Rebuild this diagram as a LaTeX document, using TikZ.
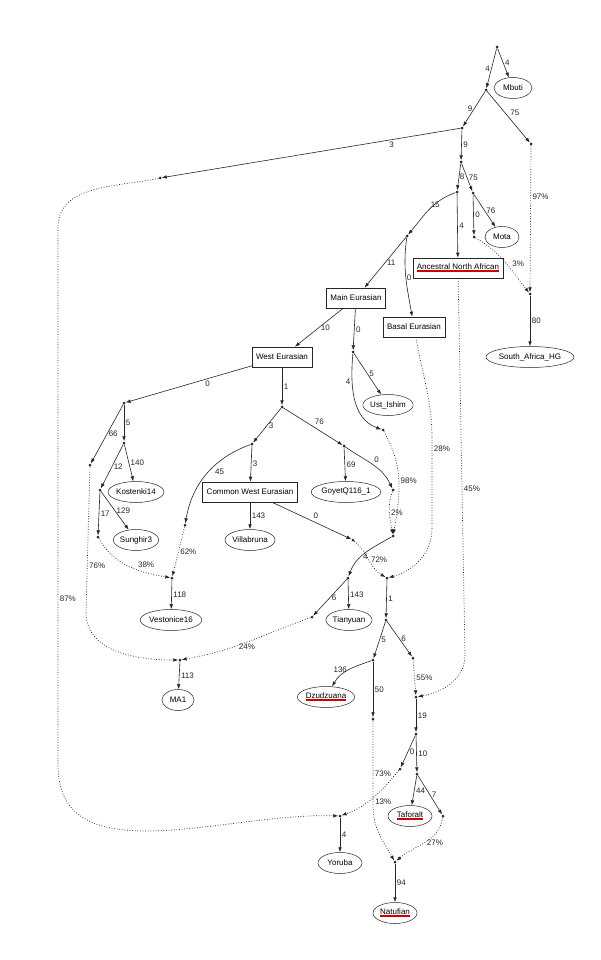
\documentclass[tikz,border=0pt]{standalone}
\usepackage{fontspec}
\setmainfont{Liberation Sans}
\usetikzlibrary{arrows.meta,shapes.geometric}
\newsavebox\ulbox
\newcommand\redul[1]{\sbox\ulbox{#1}\rlap{\textcolor{red!80!black}{\rule[-0.6ex]{\wd\ulbox}{1.7pt}}}\usebox\ulbox}
\tikzset{
  pt/.style={circle, fill=black!85, inner sep=0pt, minimum size=3pt},
  leaf/.style={draw=black!85, line width=0.5pt, ellipse, inner xsep=0pt, inner ysep=0pt, minimum width=44pt, minimum height=21pt, font=\fontsize{8}{9.5}\selectfont},
  grp/.style={draw=black!85, line width=0.6pt, rectangle, inner xsep=4pt, minimum height=20pt, font=\fontsize{8}{9.5}\selectfont},
  lbl/.style={font=\fontsize{8}{9.5}\selectfont, inner sep=1.5pt, text=black!85},
  br/.style={draw=black!85, line width=0.6pt, -{Latex[length=5pt,width=3.6pt]}},
  mix/.style={br, dash pattern=on 0.8pt off 1.8pt, line width=0.7pt},
}
\begin{document}
\begin{tikzpicture}[x=1pt,y=1pt]
\useasboundingbox[fill=white] (0,0) rectangle (601,-960);
\node[pt] (root) at (497,-47) {};
\node[leaf, minimum width=38pt] (mbuti) at (513,-88) {Mbuti};
\node[pt] (a1) at (486,-90) {};
\node[pt] (a2) at (462,-128) {};
\node[pt] (a3) at (531,-144) {};
\node[pt] (a4) at (160,-178) {};
\node[pt] (a5) at (461,-162) {};
\node[pt] (a6) at (457,-192) {};
\node[pt] (a7) at (473,-193) {};
\node[pt] (a8) at (474,-237) {};
\node[leaf, minimum width=34pt] (mota) at (502,-237) {Mota};
\node[grp] (ana) at (458,-268) {\redul{Ancestral North African}};
\node[pt] (a9) at (407,-236) {};
\node[grp] (main) at (356,-298) {Main Eurasian};
\node[grp] (basal) at (414,-327) {Basal Eurasian};
\node[pt] (sa) at (530,-294) {};
\node[leaf] (sahg) at (530,-357) {South\_Africa\_HG};
\node[grp] (west) at (282,-357) {West Eurasian};
\node[pt] (b1) at (353,-352) {};
\node[leaf] (ust) at (388,-405) {Ust\_Ishim};
\node[pt] (b2) at (383,-430) {};
\node[pt] (c1) at (124,-403) {};
\node[pt] (c2) at (282,-407) {};
\node[pt] (c3) at (90,-465) {};
\node[pt] (c4) at (124,-443) {};
\node[pt] (c5) at (100,-490) {};
\node[leaf] (kost) at (136,-492) {Kostenki14};
\node[pt] (c6) at (98,-537) {};
\node[leaf] (sung) at (136,-540) {Sunghir3};
\node[pt] (d1) at (252,-444) {};
\node[pt] (d2) at (344,-446) {};
\node[grp] (cwe) at (250,-492) {Common West Eurasian};
\node[leaf] (goyet) at (346,-492) {GoyetQ116\_1};
\node[pt] (d3) at (393,-490) {};
\node[leaf] (villa) at (250,-540) {Villabruna};
\node[pt] (d4) at (353,-540) {};
\node[pt] (d5) at (185,-525) {};
\node[pt] (vmix) at (172,-578) {};
\node[leaf] (vest) at (171,-620) {Vestonice16};
\node[pt] (tmix) at (393,-536) {};
\node[pt] (e1) at (348,-578) {};
\node[pt] (nmix) at (387,-578) {};
\node[leaf] (tian) at (349,-620) {Tianyuan};
\node[pt] (e2) at (312,-617) {};
\node[pt] (mmix) at (180,-660) {};
\node[leaf, minimum width=32pt] (ma1) at (178,-700) {MA1};
\node[pt] (f1) at (386,-620) {};
\node[pt] (f2) at (373,-660) {};
\node[pt] (f3) at (413,-658) {};
\node[leaf] (dzu) at (326,-697) {\redul{Dzudzuana}};
\node[pt] (f4) at (373,-719) {};
\node[pt] (tafmix) at (416,-697) {};
\node[pt] (g1) at (416,-734) {};
\node[pt] (g2) at (400,-769) {};
\node[pt] (g3) at (417,-774) {};
\node[leaf] (taf) at (410,-816) {\redul{Taforalt}};
\node[pt] (g4) at (443,-816) {};
\node[pt] (ymix) at (340,-816) {};
\node[leaf] (yor) at (340,-863) {Yoruba};
\node[pt] (natmix) at (395,-862) {};
\node[leaf] (natu) at (395,-913) {\redul{Natufian}};
\coordinate (wl1) at (58,-228);
\coordinate (wl2) at (58,-765);
\coordinate (wm) at (86,-612);
\coordinate (wb1) at (432,-440);
\coordinate (wb2) at (432,-528);
\coordinate (wa) at (465,-655);
\coordinate (wn) at (373,-805);
\draw[br] (root) -- node[lbl,left] {4} (a1);
\draw[br] (root) -- node[lbl,right] {4} (mbuti);
\draw[br] (a1) -- node[lbl,left] {9} (a2);
\draw[br] (a1) -- node[lbl,above right] {75} (a3);
\draw[br] (a2) -- node[lbl,pos=0.23,below] {3} (a4);
\draw[br] (a2) -- node[lbl,right] {9} (a5);
\draw[br] (a5) -- node[lbl,right,inner sep=0.5pt] {8} (a6);
\draw[br] (a5) -- node[lbl,right] {75} (a7);
\draw[br] (a7) -- node[lbl,right] {0} (a8);
\draw[br] (a7) -- node[lbl,right] {76} (mota);
\draw[br] (a6) -- node[lbl,right] {4} (ana);
\draw[br] (a6) to[out=200,in=50] node[lbl,above right] {15} (a9);
\draw[br] (a9) -- node[lbl,right] {11} (main);
\draw[br] (a9) to[out=-98,in=100] node[lbl,right,inner sep=0.8pt] {0} (basal);
\draw[mix] (a3) -- node[lbl,right,pos=0.35] {97\%} (sa);
\draw[mix] (a8) to[out=-30,in=128] node[lbl,above right,pos=0.62] {3\%} (sa);
\draw[br] (sa) -- node[lbl,right] {80} (sahg);
\draw[br] (main) -- node[lbl,right] {10} (west);
\draw[br] (main) -- node[lbl,right] {0} (b1);
\draw[br] (b1) -- node[lbl,right] {5} (ust);
\draw[br] (b1) to[out=-95,in=160] node[lbl,left,pos=0.3] {4} (b2);
\draw[br] (west) -- node[lbl,pos=0.35,below] {0} (c1);
\draw[br] (west) -- node[lbl,right] {1} (c2);
\draw[br] (c1) -- node[lbl,right] {66} (c3);
\draw[br] (c1) -- node[lbl,right] {5} (c4);
\draw[br] (c4) -- node[lbl,right] {12} (c5);
\draw[br] (c4) -- node[lbl,right] {140} (kost);
\draw[br] (c5) -- node[lbl,right] {17} (c6);
\draw[br] (c5) -- node[lbl,right] {129} (sung);
\draw[br] (c2) -- node[lbl,right] {3} (d1);
\draw[br] (c2) -- node[lbl,above right] {76} (d2);
\draw[br] (d1) -- node[lbl,right] {3} (cwe);
\draw[br] (d1) to[out=200,in=80] node[lbl,below right,pos=0.4] {45} (d5);
\draw[br] (d2) -- node[lbl,right] {69} (goyet);
\draw[br] (d2) to[out=-35,in=115] node[lbl,above right] {0} (d3);
\draw[br] (cwe) -- node[lbl,above right] {0} (d4);
\draw[br] (cwe) -- node[lbl,right] {143} (villa);
\draw[mix] (d5) -- node[lbl,right] {62\%} (vmix);
\draw[mix] (c6) to[out=-60,in=170] node[lbl,above right,pos=0.6] {38\%} (vmix);
\draw[br] (vmix) -- node[lbl,right] {118} (vest);
\draw[mix] (b2) to[out=-60,in=80] node[lbl,right] {98\%} (tmix);
\draw[mix] (d3) to[out=-110,in=100] node[lbl,right] {2\%} (tmix);
\draw[br] (tmix) to[out=210,in=70] node[lbl,right,pos=0.6] {4} (e1);
\draw[mix] (d4) to[out=-40,in=150] node[lbl,right] {72\%} (nmix);
\draw[mix] (basal) to[out=-80,in=90] (wb1) -- node[lbl,right,pos=0.1] {28\%} (wb2) to[out=-90,in=15] (nmix);
\draw[br] (e1) -- node[lbl,right] {143} (tian);
\draw[br] (e1) -- node[lbl,right] {6} (e2);
\draw[mix] (c3) -- node[lbl,right,pos=0.68] {76\%} (wm) to[out=-90,in=180] (mmix);
\draw[mix] (e2) to[out=200,in=10] node[lbl,below] {24\%} (mmix);
\draw[br] (mmix) -- node[lbl,right] {113} (ma1);
\draw[br] (nmix) -- node[lbl,right] {1} (f1);
\draw[br] (f1) -- node[lbl,right] {5} (f2);
\draw[br] (f1) -- node[lbl,right] {6} (f3);
\draw[br] (f2) to[out=200,in=60] node[lbl,left] {136} (dzu);
\draw[br] (f2) -- node[lbl,right] {50} (f4);
\draw[mix] (f3) -- node[lbl,right] {55\%} (tafmix);
\draw[mix] (ana) -- node[lbl,right,pos=0.56] {45\%} (wa) to[out=-90,in=10] (tafmix);
\draw[br] (tafmix) -- node[lbl,right] {19} (g1);
\draw[br] (g1) -- node[lbl,right] {0} (g2);
\draw[br] (g1) -- node[lbl,right] {10} (g3);
\draw[br] (g3) -- node[lbl,right] {44} (taf);
\draw[br] (g3) -- node[lbl,right] {7} (g4);
\draw[mix] (a4) to[out=192,in=90] (wl1) -- node[lbl,right,pos=0.69] {87\%} (wl2) to[out=-90,in=178] (ymix);
\draw[mix] (g2) to[out=230,in=20] node[lbl,below right] {13\%} (ymix);
\draw[br] (ymix) -- node[lbl,right] {4} (yor);
\draw[mix] (f4) -- node[lbl,right,pos=0.63] {73\%} (wn) to[out=-90,in=120] (natmix);
\draw[mix] (g4) to[out=-100,in=40] node[lbl,right] {27\%} (natmix);
\draw[br] (natmix) -- node[lbl,right] {94} (natu);
\end{tikzpicture}
\end{document}
